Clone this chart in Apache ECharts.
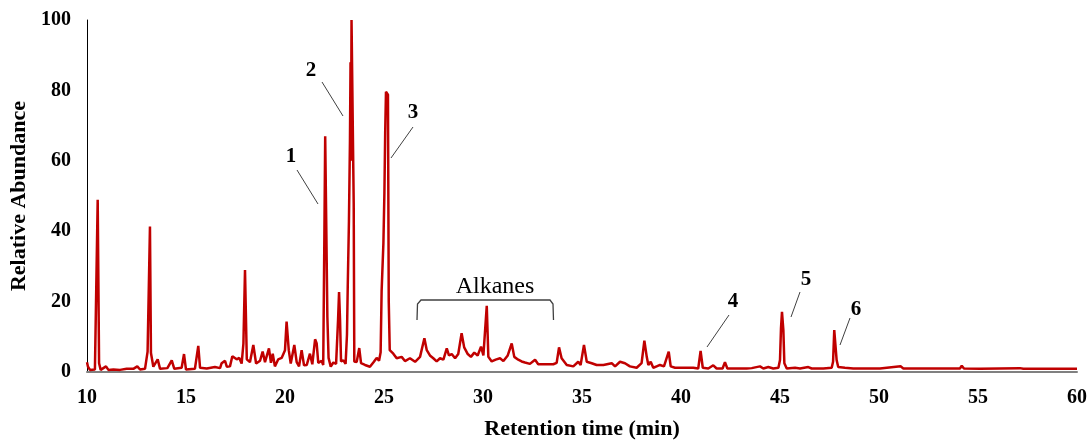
<!DOCTYPE html>
<html>
<head>
<meta charset="utf-8">
<script src="https://cdn.jsdelivr.net/npm/echarts@6/dist/echarts.min.js"></script>
<style>
  html, body { margin: 0; padding: 0; background: #fff; }
  #chart { width: 1091px; height: 441px; }
</style>
</head>
<body>
<div id="chart"></div>
<script>
// retention time (min), relative abundance
var segEarly = [
  [10.0, 2.8], [10.05, 1.5], [10.15, 0.6], [10.4, 0.7], [10.49, 0.9], [10.54, 48.9], [10.61, 2.5],
  [10.69, 0.6], [10.96, 1.6], [11.08, 0.6], [11.33, 0.7], [11.67, 0.6], [12.0, 0.9], [12.34, 0.9],
  [12.54, 1.6], [12.68, 0.7], [12.93, 0.9], [13.06, 5.8], [13.13, 6.0], [13.18, 41.3], [13.23, 5.4],
  [13.35, 1.5], [13.57, 3.6], [13.69, 0.9], [14.06, 1.1], [14.28, 3.3], [14.41, 0.9], [14.78, 1.2],
  [14.9, 5.1], [15.0, 0.7], [15.45, 0.9], [15.62, 7.4], [15.71, 1.2], [16.05, 1.0], [16.46, 1.4],
  [16.72, 1.1], [16.8, 2.5], [16.97, 3.2], [17.06, 1.5], [17.22, 1.6]
];
var segMain = [
  [17.34, 4.5], [17.44, 4.0], [17.56, 3.6], [17.69, 4.0], [17.81, 2.4], [17.9, 8.1], [17.98, 29.0],
  [18.07, 3.6], [18.23, 2.8], [18.4, 7.7], [18.54, 2.4], [18.74, 3.2], [18.87, 5.8], [18.99, 2.8],
  [19.19, 6.7], [19.29, 2.6], [19.38, 5.2], [19.49, 1.6], [19.66, 3.6], [19.83, 4.0], [20.0, 6.2],
  [20.08, 14.3], [20.19, 6.2], [20.29, 2.4], [20.47, 7.7], [20.59, 2.8], [20.71, 1.6], [20.84, 6.2],
  [20.96, 1.9], [21.1, 2.0], [21.26, 5.2], [21.38, 2.2], [21.52, 9.3], [21.6, 8.1], [21.68, 2.6],
  [21.85, 3.2], [21.93, 2.0], [21.99, 39.4], [22.03, 67.0], [22.09, 39.0], [22.14, 15.6], [22.2, 4.0],
  [22.31, 1.5], [22.44, 2.7], [22.58, 2.3], [22.68, 14.8], [22.73, 22.7], [22.78, 14.8], [22.83, 3.0],
  [22.95, 3.3], [23.06, 2.3], [23.13, 10.6], [23.17, 24.7], [23.23, 43.0], [23.28, 65.4], [23.31, 88.0],
  [23.33, 60.0], [23.36, 100], [23.43, 100], [23.47, 48.0], [23.5, 3.0], [23.62, 2.8], [23.75, 6.8],
  [23.84, 2.5], [24.04, 2.0], [24.29, 1.5], [24.46, 2.7], [24.63, 4.0], [24.75, 3.2], [24.83, 5.6],
  [24.88, 23.0], [24.97, 36.6], [25.02, 50.8], [25.06, 68.0], [25.1, 79.6], [25.2, 78.8], [25.24, 20.0],
  [25.29, 6.2], [25.47, 5.2]
];
var segAlkanes = [
  [25.64, 3.9], [25.89, 4.3], [26.06, 3.1], [26.31, 3.9], [26.57, 2.9], [26.82, 4.3], [27.04, 9.6],
  [27.16, 6.2], [27.32, 4.7], [27.49, 3.9], [27.66, 3.0], [27.83, 3.9], [28.0, 3.5], [28.17, 6.7],
  [28.28, 4.7], [28.42, 5.1], [28.59, 3.9], [28.75, 5.1], [28.92, 11.0], [29.05, 7.0], [29.23, 5.1],
  [29.39, 4.3], [29.56, 5.5], [29.73, 4.7], [29.9, 7.2], [30.02, 4.7], [30.12, 4.5], [30.19, 18.8],
  [30.27, 4.3], [30.44, 3.0], [30.64, 3.5], [30.86, 3.9], [31.03, 3.1], [31.25, 4.7], [31.45, 8.1],
  [31.58, 4.3], [31.78, 3.5], [31.95, 3.0], [32.12, 2.7], [32.37, 2.3], [32.63, 3.5], [32.79, 2.2],
  [33.05, 2.2], [33.3, 2.2], [33.55, 2.2], [33.72, 2.6], [33.84, 7.0], [33.97, 3.9]
];
var segLate = [
  [34.06, 4.3], [34.23, 2.0], [34.56, 1.6], [34.81, 2.9], [34.93, 2.0], [35.1, 7.7], [35.24, 2.9],
  [35.49, 2.5], [35.74, 2.0], [36.08, 2.0], [36.5, 2.5], [36.67, 1.6], [36.92, 2.9], [37.17, 2.5],
  [37.42, 1.6], [37.76, 1.2], [38.01, 2.5], [38.15, 8.9], [38.27, 4.3], [38.35, 2.0], [38.47, 2.9],
  [38.6, 1.2], [38.77, 1.6], [38.94, 2.0], [39.14, 1.6], [39.38, 5.8], [39.48, 1.6], [39.7, 1.2],
  [40.12, 1.2], [40.62, 1.2], [40.71, 1.7], [40.87, 1.0], [40.99, 6.0], [41.1, 1.2], [41.38, 1.0],
  [41.63, 1.9], [41.8, 1.0], [42.1, 1.0], [42.22, 2.8], [42.34, 1.0], [43.32, 1.0], [43.57, 1.1],
  [43.99, 1.6], [44.16, 1.0], [44.41, 1.4], [44.66, 1.0], [44.92, 1.2], [45.0, 3.4], [45.05, 12.4],
  [45.1, 17.1], [45.17, 11.9], [45.22, 2.5], [45.34, 1.0], [45.76, 1.2], [46.01, 1.0], [46.43, 1.4],
  [46.6, 1.0], [46.85, 1.0], [47.19, 1.0], [47.61, 1.2], [47.68, 2.9], [47.74, 11.9], [47.79, 11.5],
  [47.86, 3.4], [47.94, 1.4], [48.28, 1.2], [48.7, 1.0], [50.05, 1.0], [51.09, 1.6], [51.23, 1.0],
  [52.91, 1.0], [54.09, 1.0], [54.18, 1.8], [54.29, 1.0], [55.1, 0.9], [57.12, 1.1], [57.29, 0.9],
  [58.47, 0.9], [60.0, 0.9]
];
var peakLabels = ['1', '2', '3', '4', '5', '6'];
var groupLabel = 'Alkanes';

var serif = '"Times New Roman", "Liberation Serif", serif';
var chart = echarts.init(document.getElementById('chart'));

// label text position + leader line (pixels)
var callouts = [
  { x: 291, y: 157, line: [[297, 170], [318, 204]] },
  { x: 311, y: 71, line: [[322, 82], [343, 116]] },
  { x: 413, y: 113, line: [[413, 127], [391, 158]] },
  { x: 733, y: 302, line: [[729, 315], [707, 347]] },
  { x: 806, y: 280, line: [[800, 292], [791, 317]] },
  { x: 856, y: 310, line: [[850, 318], [840, 345]] }
];

var graphics = [];
callouts.forEach(function (c, i) {
  graphics.push({
    type: 'text', x: c.x, y: c.y, z: 10,
    style: { text: peakLabels[i], font: 'bold 21px ' + serif, fill: '#000', textAlign: 'center', textVerticalAlign: 'middle' }
  });
  graphics.push({
    type: 'line', z: 10,
    shape: { x1: c.line[0][0], y1: c.line[0][1], x2: c.line[1][0], y2: c.line[1][1] },
    style: { stroke: '#404040', lineWidth: 1 }
  });
});
// bracket over the alkanes
graphics.push({
  type: 'polyline', z: 10,
  shape: { points: [[417, 320], [417.5, 304], [421, 300], [550, 300], [553, 304], [553.5, 320]] },
  style: { stroke: '#404040', lineWidth: 1.3, fill: null }
});
graphics.push({
  type: 'text', x: 495, y: 287, z: 10,
  style: { text: groupLabel, font: '24px ' + serif, fill: '#000', textAlign: 'center', textVerticalAlign: 'middle' }
});

var option = {
  animation: false,
  grid: { left: 87, right: 14, top: 20, bottom: 69, containLabel: false, outerBoundsMode: 'none' },
  xAxis: {
    type: 'value',
    min: 10, max: 60, interval: 5,
    name: 'Retention time (min)',
    nameLocation: 'middle',
    nameGap: 46,
    nameTextStyle: { fontFamily: serif, fontWeight: 'bold', fontSize: 22, color: '#000' },
    axisLine: { onZero: false, lineStyle: { color: '#808080', width: 2 } },
    axisTick: { show: false },
    splitLine: { show: false },
    axisLabel: { fontFamily: serif, fontWeight: 'bold', fontSize: 20, color: '#000', margin: 16 }
  },
  yAxis: {
    type: 'value',
    min: 0, max: 100, interval: 20,
    name: 'Relative Abundance',
    nameLocation: 'middle',
    nameGap: 56,
    nameTextStyle: { fontFamily: serif, fontWeight: 'bold', fontSize: 22, color: '#000' },
    axisLine: { show: true, lineStyle: { color: '#000', width: 1 } },
    axisTick: { show: false },
    splitLine: { show: false },
    axisLabel: { fontFamily: serif, fontWeight: 'bold', fontSize: 20, color: '#000', margin: 16 }
  },
  series: [{
    type: 'line',
    data: segEarly.concat(segMain, segAlkanes, segLate),
    showSymbol: false,
    symbol: 'none',
    lineStyle: { color: '#C00000', width: 2.5 },
    z: 3
  }],
  graphic: graphics
};
chart.setOption(option);
</script>
</body>
</html>
